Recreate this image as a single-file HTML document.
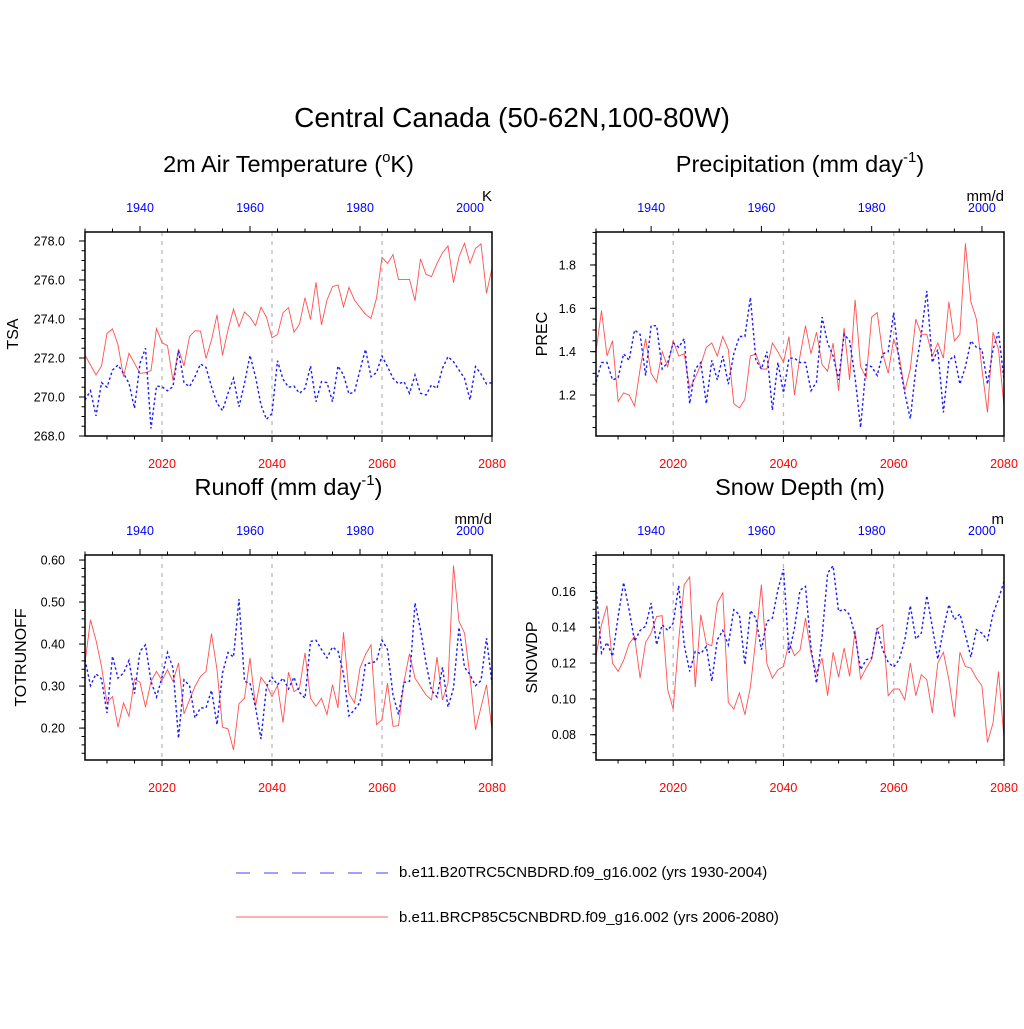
<!DOCTYPE html>
<html><head><meta charset="utf-8"><style>
html,body{margin:0;padding:0;background:#fff;}
svg text{font-family:"Liberation Sans",sans-serif;}
</style></head><body>
<svg id="fig" width="1024" height="1024" viewBox="0 0 1024 1024" xmlns="http://www.w3.org/2000/svg">
<text x="512" y="127" font-size="28" text-anchor="middle">Central Canada (50-62N,100-80W)</text>
<g id="legend">
<line x1="236" y1="873" x2="388" y2="873" stroke="#4040ff" stroke-width="1" stroke-dasharray="14,14"/>
<text x="399" y="877" font-size="15">b.e11.B20TRC5CNBDRD.f09_g16.002 (yrs 1930-2004)</text>
<line x1="236" y1="917" x2="388" y2="917" stroke="#ff6060" stroke-width="1"/>
<text x="399" y="922" font-size="15">b.e11.BRCP85C5CNBDRD.f09_g16.002 (yrs 2006-2080)</text>
</g>
</svg>
<script>
const yearsRed0 = 2006, yearsBlue0 = 1930, nYears = 75;
const tsaRed = [272.15,271.64,271.13,271.59,273.26,273.49,272.67,271.04,272.24,271.73,271.21,271.25,271.35,273.50,272.79,272.63,270.84,272.46,271.59,273.09,273.40,273.38,271.98,272.92,274.21,272.14,273.44,274.51,273.61,274.36,274.09,273.66,274.60,274.09,273.04,273.20,274.32,274.58,273.32,273.74,275.09,273.98,275.88,273.69,274.97,275.66,275.74,274.62,275.62,274.97,274.60,274.24,274.03,275.06,277.16,276.85,277.30,276.03,276.03,276.03,274.94,277.08,276.29,276.17,276.85,277.40,277.74,275.86,277.20,277.88,276.85,277.62,277.85,275.32,276.60];
const tsaBlue = [269.85,270.32,269.03,270.74,270.50,271.38,271.64,271.21,270.70,269.42,271.73,272.50,268.39,270.56,270.53,270.32,270.53,272.38,270.74,270.53,271.04,271.69,271.52,270.53,269.68,269.30,270.19,270.96,269.50,270.70,272.14,271.04,269.59,268.85,269.16,271.86,270.91,270.50,270.56,270.19,270.44,271.59,269.76,270.79,270.74,269.76,271.59,271.13,270.15,270.27,271.38,272.44,271.04,271.25,272.10,271.56,270.96,270.67,270.79,270.19,271.13,270.19,270.10,270.62,270.44,271.47,272.07,271.81,271.38,270.96,269.85,271.56,271.18,270.67,270.74];
const precRed = [1.40,1.59,1.38,1.45,1.17,1.21,1.20,1.15,1.32,1.46,1.30,1.26,1.40,1.33,1.45,1.38,1.39,1.23,1.28,1.34,1.42,1.44,1.38,1.47,1.41,1.16,1.14,1.18,1.38,1.39,1.32,1.32,1.44,1.40,1.35,1.47,1.20,1.38,1.52,1.39,1.49,1.34,1.31,1.44,1.22,1.51,1.27,1.64,1.33,1.28,1.56,1.58,1.39,1.30,1.46,1.38,1.22,1.32,1.55,1.48,1.48,1.38,1.44,1.37,1.63,1.45,1.48,1.90,1.63,1.55,1.32,1.12,1.49,1.41,1.15];
const precBlue = [1.26,1.35,1.35,1.27,1.28,1.39,1.36,1.50,1.48,1.29,1.52,1.52,1.32,1.35,1.44,1.42,1.46,1.16,1.32,1.35,1.16,1.36,1.27,1.38,1.25,1.39,1.47,1.47,1.65,1.36,1.32,1.40,1.13,1.35,1.21,1.37,1.37,1.35,1.35,1.22,1.26,1.56,1.44,1.38,1.27,1.48,1.45,1.28,1.05,1.34,1.33,1.29,1.39,1.40,1.58,1.35,1.21,1.09,1.32,1.48,1.68,1.35,1.41,1.12,1.36,1.38,1.25,1.33,1.45,1.42,1.41,1.25,1.41,1.49,1.27];
const roRed = [.355,.458,.409,.347,.260,.275,.202,.260,.228,.317,.309,.250,.311,.335,.313,.339,.311,.355,.234,.267,.299,.323,.335,.425,.339,.202,.198,.148,.258,.271,.367,.252,.321,.303,.275,.301,.213,.333,.287,.295,.379,.271,.252,.271,.232,.303,.248,.428,.282,.260,.343,.375,.398,.208,.220,.307,.204,.206,.311,.377,.319,.299,.279,.267,.369,.267,.307,.587,.454,.426,.323,.196,.250,.303,.196];
const roBlue = [.363,.301,.329,.317,.236,.371,.319,.331,.361,.282,.383,.398,.311,.274,.321,.380,.343,.176,.315,.301,.224,.248,.248,.290,.208,.331,.380,.369,.507,.311,.307,.250,.174,.299,.321,.303,.319,.293,.321,.285,.271,.406,.409,.387,.367,.393,.383,.329,.229,.244,.261,.353,.355,.359,.409,.387,.279,.232,.309,.311,.498,.434,.355,.290,.274,.345,.250,.295,.440,.345,.327,.301,.313,.414,.306];
const snowRed = [.1237,.1414,.1520,.1200,.1153,.1215,.1308,.1349,.1116,.1315,.1367,.1460,.1464,.1051,.0943,.1330,.1637,.1680,.1066,.1470,.1308,.1297,.1535,.1591,.0980,.0943,.1033,.0912,.1066,.1340,.1637,.1196,.1116,.1163,.1181,.1315,.1241,.1271,.1451,.1256,.1144,.1228,.1018,.1260,.1122,.1284,.1126,.1382,.1111,.1172,.1222,.1390,.1414,.1018,.1055,.1055,.0995,.1200,.1018,.1135,.1107,.0921,.1200,.1260,.1107,.0899,.1260,.1181,.1172,.1116,.1073,.0757,.0865,.1153,.0781];
const snowBlue = [.1628,.1256,.1315,.1237,.1460,.1650,.1498,.1321,.1382,.1405,.1535,.1302,.1414,.1382,.1423,.1632,.1302,.1153,.1265,.1252,.1293,.1098,.1330,.1382,.1302,.1498,.1470,.1191,.1494,.1451,.1274,.1433,.1451,.1609,.1725,.1256,.1395,.1606,.1628,.1284,.1088,.1349,.1702,.1743,.1488,.1501,.1470,.1353,.1163,.1219,.1228,.1395,.1274,.1204,.1178,.1219,.1330,.1520,.1334,.1367,.1576,.1401,.1222,.1386,.1526,.1442,.1475,.1358,.1233,.1386,.1367,.1327,.1475,.1557,.1656];
const redTicks = [2020,2040,2060,2080];
const blueTicks = [1940,1960,1980,2000];
const tsaTicks = [268,270,272,274,276,278];
const precTicks = [1.2,1.4,1.6,1.8];
const roTicks = [0.2,0.3,0.4,0.5,0.6];
const snowTicks = [0.08,0.10,0.12,0.14,0.16];

const NS='http://www.w3.org/2000/svg';
const svg=document.getElementById('fig');
function mk(tag,attrs,parent){const e=document.createElementNS(NS,tag);for(const k in attrs)e.setAttribute(k,attrs[k]);(parent||svg).appendChild(e);return e;}

const panels=[
 {key:'tsa',x0:85,x1:492,y0:232,y1:436,ymin:268,ymax:278.46,ticks:tsaTicks,minor:0.5,dec:1,red:tsaRed,blue:tsaBlue,title:'2m Air Temperature (',sup:'o',tail:'K)',unit:'K',ylabel:'TSA',ty:172,ylx:18},
 {key:'prec',x0:596,x1:1004,y0:232,y1:436,ymin:1.011,ymax:1.952,ticks:precTicks,minor:0.05,dec:1,red:precRed,blue:precBlue,title:'Precipitation (mm day',sup:'-1',tail:')',unit:'mm/d',ylabel:'PREC',ty:172,ylx:547},
 {key:'runoff',x0:85,x1:492,y0:555,y1:760,ymin:0.124,ymax:0.612,ticks:roTicks,minor:0.02,dec:2,red:roRed,blue:roBlue,title:'Runoff (mm day',sup:'-1',tail:')',unit:'mm/d',ylabel:'TOTRUNOFF',ty:495,ylx:26},
 {key:'snow',x0:596,x1:1004,y0:555,y1:760,ymin:0.0659,ymax:0.1803,ticks:snowTicks,minor:0.005,dec:2,red:snowRed,blue:snowBlue,title:'Snow Depth (m)',sup:'',tail:'',unit:'m',ylabel:'SNOWDP',ty:495,ylx:537}
];

panels.forEach(p=>{
  const g=mk('g',{});
  
  
  const xR=y=>p.x0+(y-2006)*(p.x1-p.x0)/74;
  const xB=y=>p.x0+(y-1930)*(p.x1-p.x0)/74;
  const yS=v=>p.y1-(v-p.ymin)*(p.y1-p.y0)/(p.ymax-p.ymin);
  const t=mk('text',{x:(p.x0+p.x1)/2,y:p.ty,'font-size':23.5,'text-anchor':'middle'},g);
  
  
  t.appendChild(document.createTextNode(p.title));
  if(p.sup){const s=mk('tspan',{'font-size':15,dy:-10},t);s.textContent=p.sup;const s2=mk('tspan',{'font-size':23.5,dy:10},t);s2.textContent=p.tail;}
  const u=mk('text',{x:p.x1,y:201,'font-size':15,'text-anchor':'end'},g);
  
  
  if(p.y0>500)u.setAttribute('y',524);
  u.textContent=p.unit;
  [2020,2040,2060].forEach(yr=>{
    const l=mk('line',{x1:xR(yr),x2:xR(yr),y1:p.y0,y2:p.y1,stroke:'#bbb','stroke-width':1.3,'stroke-dasharray':'4,5'},g);
    
    
  });
  const ptsR=p.red.map((v,i)=>xR(2006+i).toFixed(1)+','+yS(v).toFixed(1)).join(' ');
  const r=mk('polyline',{points:ptsR,fill:'none',stroke:'#ff5050','stroke-width':0.9},g);
  
  
  const ptsB=p.blue.map((v,i)=>xB(1930+i).toFixed(1)+','+yS(v).toFixed(1)).join(' ');
  const b=mk('polyline',{points:ptsB,fill:'none',stroke:'#1a1aff','stroke-width':1.4,'stroke-dasharray':'2.5,2.5'},g);
  
  
  const f=mk('rect',{x:p.x0,y:p.y0,width:p.x1-p.x0,height:p.y1-p.y0,fill:'none',stroke:'#000','stroke-width':1.5},g);
  
  
  for(let yr=2010;yr<=2080;yr+=5){const x=xR(yr);const maj=yr%20===0;mk('line',{x1:x,x2:x,y1:p.y1,y2:p.y1+(maj?6:3.5),stroke:'#000','stroke-width':1},g);}
  for(let yr=1930;yr<=2004;yr+=5){const x=xB(yr);const maj=yr%20===0;mk('line',{x1:x,x2:x,y1:p.y0,y2:p.y0-(maj?6:3.5),stroke:'#000','stroke-width':1},g);}
  redTicks.forEach(yr=>{const tt=mk('text',{x:xR(yr),y:p.y1+32,'font-size':12.5,fill:'#ff0000','text-anchor':'middle'},g);
    
    
    tt.textContent=yr;});
  blueTicks.forEach(yr=>{const tt=mk('text',{x:xB(yr),y:p.y0-20,'font-size':12.5,fill:'#0000ff','text-anchor':'middle'},g);
    
    
    tt.textContent=yr;});
  for(let v=Math.ceil(p.ymin/p.minor-1e-6)*p.minor;v<=p.ymax+1e-9;v+=p.minor){const y=yS(v);mk('line',{x1:p.x0,x2:p.x0-3.5,y1:y,y2:y,stroke:'#000','stroke-width':1},g);}
  p.ticks.forEach(v=>{const y=yS(v);mk('line',{x1:p.x0,x2:p.x0-6,y1:y,y2:y,stroke:'#000','stroke-width':1},g);
    const tt=mk('text',{x:p.x0-20,y:y+4.5,'font-size':12.5,'text-anchor':'end'},g);
    
    
    tt.textContent=v.toFixed(p.dec);});
  const yl=mk('text',{x:p.ylx,y:(p.y0+p.y1)/2,'font-size':16,'text-anchor':'middle',transform:'rotate(-90 '+p.ylx+' '+(p.y0+p.y1)/2+')'},g);
  
  
  yl.textContent=p.ylabel;
});
</script>
</body></html>
